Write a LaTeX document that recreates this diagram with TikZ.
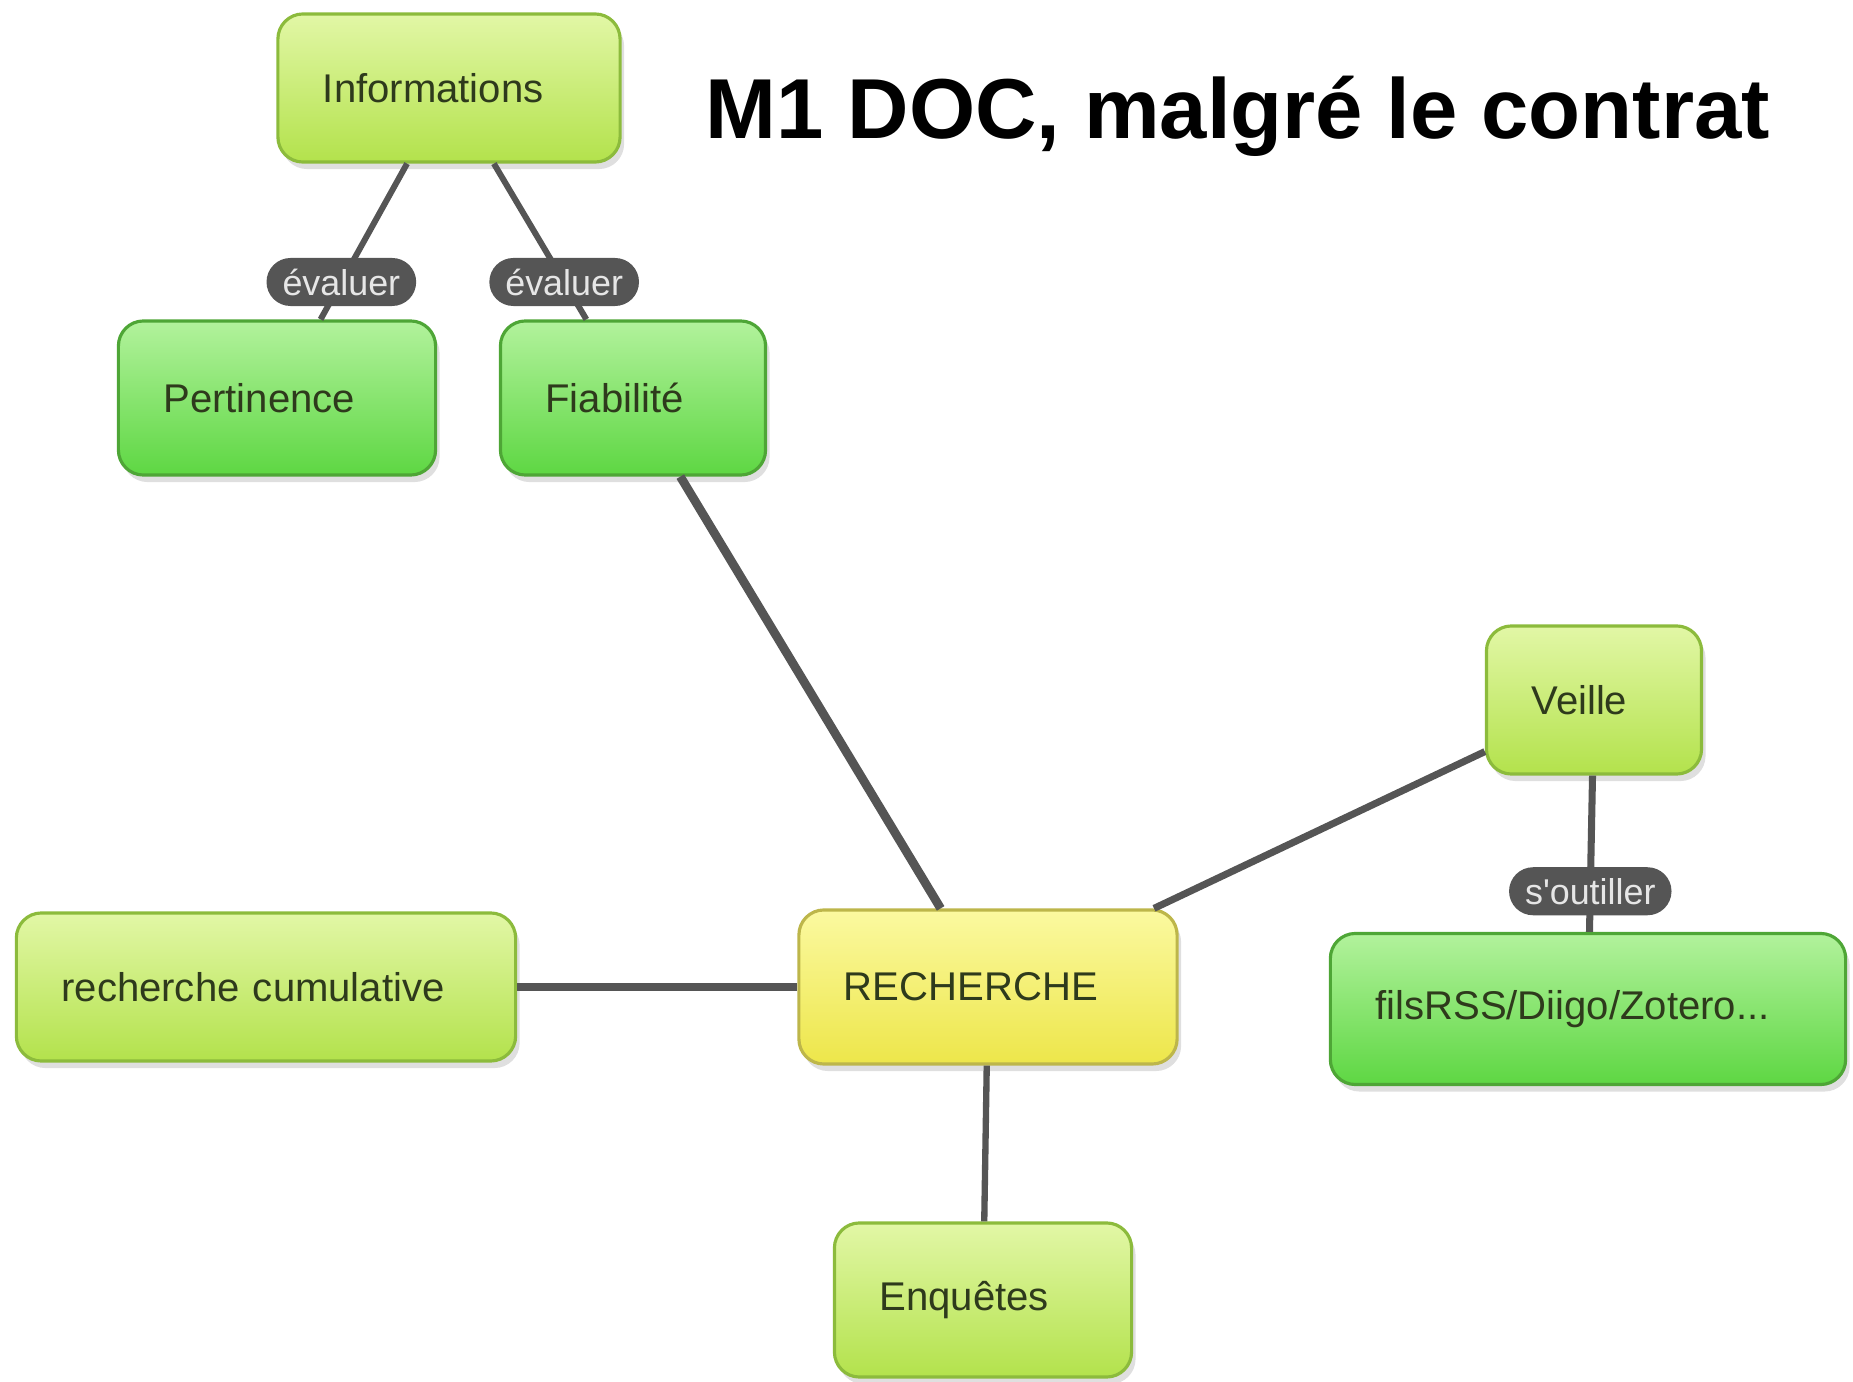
\documentclass[tikz,border=0pt]{standalone}
\usepackage{fontspec}
\setmainfont{Liberation Sans}
\usetikzlibrary{shadows}

\definecolor{limetop}{HTML}{E2F7A6}
\definecolor{limebot}{HTML}{B3E24C}
\definecolor{limedraw}{HTML}{8CBB3C}
\definecolor{greentop}{HTML}{B2F29C}
\definecolor{greenbot}{HTML}{5ED743}
\definecolor{greendraw}{HTML}{4EA636}
\definecolor{yellowtop}{HTML}{FBF9A0}
\definecolor{yellowbot}{HTML}{EDE64A}
\definecolor{yellowdraw}{HTML}{BDB64A}
\definecolor{nodetext}{HTML}{2E3A1C}
\definecolor{linkcol}{HTML}{555555}
\definecolor{verbtext}{HTML}{E6E6E6}

\begin{document}
\begin{tikzpicture}[x=0.01cm, y=-0.01cm,
	concept/.style={rectangle, rounded corners=0.25cm, line width=0.9pt, inner xsep=0.45cm, inner ysep=0pt, align=left, text=nodetext, font=\fontsize{11.4}{13}\selectfont, drop shadow={shadow xshift=0.04cm, shadow yshift=-0.07cm, opacity=0.25}},
	limebox/.style={concept, draw=limedraw, top color=limetop, bottom color=limebot},
	greenbox/.style={concept, draw=greendraw, top color=greentop, bottom color=greenbot},
	yellowbox/.style={concept, draw=yellowdraw, top color=yellowtop, bottom color=yellowbot},
	verb/.style={rectangle, fill=linkcol, rounded corners=0.24cm, text=verbtext, font=\fontsize{10.2}{12}\selectfont, inner xsep=0.16cm, inner ysep=0pt, minimum height=0.48cm},
	link/.style={draw=linkcol, line width=2pt}]
			\useasboundingbox (0,0) rectangle (1853,1382);
			
			\node[limebox, text width=2.52cm, minimum height=1.48cm] (info) at (449,88) {Informations};
			\node[greenbox, text width=2.27cm, minimum height=1.54cm] (pert) at (277,398) {Pertinence};
			\node[greenbox, text width=1.75cm, minimum height=1.54cm] (fiab) at (633,398) {Fiabilité};
			\node[yellowbox, text width=2.88cm, minimum height=1.54cm] (rech) at (988,987) {RECHERCHE};
			\node[limebox, text width=4.09cm, minimum height=1.48cm] (cumul) at (266,987) {recherche cumulative};
			\node[limebox, text width=2.07cm, minimum height=1.54cm] (enq) at (983,1300) {Enquêtes};
			\node[limebox, text width=1.25cm, minimum height=1.48cm] (veille) at (1594,700) {Veille};
			\node[greenbox, text width=4.25cm, minimum height=1.51cm] (fils) at (1588,1009) {filsRSS/Diigo/Zotero...};
			
			\node[anchor=base, font=\fontsize{24.2}{29}\bfseries] (titre) at (1238,139) {M1 DOC, malgré le contrat};
			
			\path[link, line width=1.7pt] (info) edge node[verb, pos=0.76]{évaluer} (pert);
			\path[link, line width=1.7pt] (info) edge node[verb, pos=0.76]{évaluer} (fiab);
			\path[link, line width=2.5pt] (fiab) edge (rech);
			\path[link] (veille) edge (rech);
			\path[link] (cumul) edge (rech);
			\path[link, line width=1.8pt] (rech) edge (enq);
			\path[link] (veille) edge node[verb, pos=0.74]{s\textquotesingle outiller} (fils);
			\end{tikzpicture}
\end{document}
